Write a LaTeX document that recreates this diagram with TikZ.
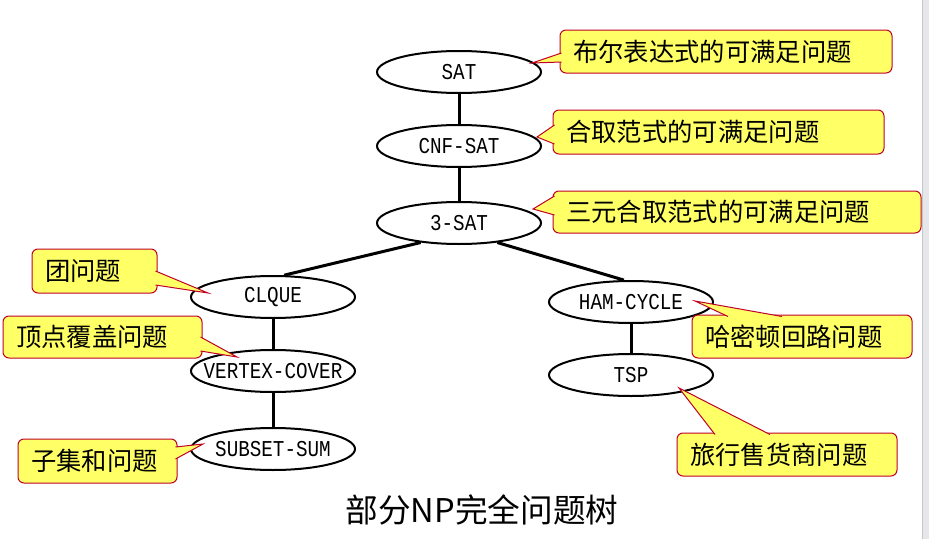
\documentclass[tikz,border=0pt]{standalone}
\usepackage{fontspec}
\usetikzlibrary{shapes.geometric}
\newfontfamily\cjk{Noto Sans CJK SC}
\newfontfamily\ellfont[FakeStretch=0.85]{Liberation Mono}
\definecolor{callyellow}{RGB}{255,255,102}
\definecolor{callred}{RGB}{192,0,40}
\definecolor{stripgray}{RGB}{229,231,235}

\begin{document}
\begin{tikzpicture}[x=0.75pt,y=-0.75pt,
	prob/.style={ellipse,draw,line width=1.5pt,minimum width=123pt,minimum height=31.5pt,inner ysep=0pt,inner xsep=-12pt,font=\ellfont\fontsize{17}{20}\selectfont},
	link/.style={line width=2.25pt},
	callbox/.style={fill=callyellow,draw=callred,line width=0.75pt,rounded corners=4.5pt},
	wedge/.style={fill=callyellow,draw=callred,line width=0.75pt},
	calltext/.style={anchor=west,inner sep=0pt,font=\cjk\fontsize{19}{22}\selectfont}]
\useasboundingbox (0,0) rectangle (929,539);
\fill[white] (0,0) rectangle (929,539);
\fill[stripgray] (922,0) rectangle (929,539);
\draw[gray!45,line width=0.75pt] (922,0)--(922,539);
% problem tree
\node[prob] (sat) at (459,72) {SAT};
\node[prob] (cnf) at (459,146) {CNF-SAT};
\node[prob] (sat3) at (459,223) {3-SAT};
\node[prob] (clque) at (273,297) {CLQUE};
\node[prob] (vc) at (273,371) {VERTEX-COVER};
\node[prob] (ss) at (273,449) {SUBSET-SUM};
\node[prob] (ham) at (631,302) {HAM-CYCLE};
\node[prob] (tsp) at (631,375) {TSP};
\draw[link] (sat)--(cnf);
\draw[link] (cnf)--(sat3);
\draw[link] (sat3.207)--(clque.63);
\draw[link] (sat3.-27)--(ham.108);
\draw[link] (clque)--(vc);
\draw[link] (vc)--(ss);
\draw[link] (ham)--(tsp);
% callouts: name/box/tip/wedge base/text
\foreach \nm/\xa/\ya/\xb/\yb/\tx/\ty/\ax/\ay/\bx/\by/\txt in {
	c1/560/30/892/73/532/63/561.5/53/561.5/62/布尔表达式的可满足问题,
	c2/553/110/884/154/537/137/554.5/125/554.5/144/合取范式的可满足问题,
	c3/553/191/921/233/533/209/554.5/196/554.5/215/三元合取范式的可满足问题,
	c4/32/249/157/293/208/293/155.5/271/155.5/285/团问题,
	c5/3/316/202/358/237/357/200.5/337/200.5/351/顶点覆盖问题,
	c6/18/439/177/483/203/444/175.5/447/175.5/459/子集和问题,
	c7/692/315/912/358/695/301/728/316.5/782/316.5/哈密顿回路问题,
	c8/677/433/897/476/679/388/715/434.5/770/434.5/旅行售货商问题}{
	\draw[callbox] (\xa,\ya) rectangle (\xb,\yb);
	\filldraw[wedge] (\ax,\ay)--(\tx,\ty)--(\bx,\by);
	\node[calltext] (\nm) at (\xa+13,{(\ya+\yb)/2}) {\txt};
	}
\node[font=\cjk\fontsize{24.5}{28}\selectfont] (title) at (482,510) {部分NP完全问题树};
\end{tikzpicture}
\end{document}
